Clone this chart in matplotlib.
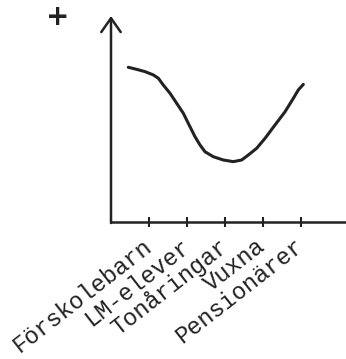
import numpy as np
import matplotlib
matplotlib.use("Agg")
import matplotlib.pyplot as plt

# categories on the x axis
categories = ["Förskolebarn", "LM-elever", "Tonåringar", "Vuxna", "Pensionärer"]
tick_pos = [1, 2, 3, 4, 5]

# hand drawn curve (x in category units, y 0..10)
curve_x = [0.455, 0.676, 0.895, 1.113, 1.245, 1.376, 1.553, 1.729, 1.903,
           2.034, 2.211, 2.342, 2.474, 2.692, 2.955, 3.218, 3.439, 3.613,
           3.834, 4.053, 4.316, 4.579, 4.797, 4.929, 5.061]
curve_y = [7.51, 7.41, 7.30, 7.14, 6.98, 6.65, 6.25, 5.76, 5.28,
           4.79, 4.14, 3.74, 3.41, 3.17, 3.01, 2.93, 3.01, 3.25,
           3.58, 4.06, 4.71, 5.35, 6.00, 6.41, 6.68]

ink = "#222222"
W, H = 346, 359

fig = plt.figure(figsize=(W / 100, H / 100), dpi=100)
fig.patch.set_facecolor("white")

# axes box: y axis at x=111 px, x axis at y=222 px, arrow tip at y=16 px
ax = fig.add_axes([111 / W, (H - 222) / H, (W - 111) / W, (222 - 16) / H])
ax.set_xlim(0, (W - 111) / 38.0)
ax.set_ylim(0, 10)

ax.plot(curve_x, curve_y, color=ink, lw=2.2, solid_capstyle="round",
        solid_joinstyle="round", clip_on=False)

# axes lines
for s in ["top", "right", "left"]:
    ax.spines[s].set_visible(False)
ax.spines["bottom"].set_linewidth(1.8)
ax.spines["bottom"].set_color(ink)
ax.annotate("", xy=(0, 10), xytext=(0, -0.05),
            arrowprops=dict(arrowstyle="->,head_length=1.0,head_width=0.7",
                            lw=1.8, color=ink, shrinkA=0, shrinkB=0),
            annotation_clip=False)

ax.set_yticks([])
ax.set_xticks(tick_pos)
ax.set_xticklabels(categories, rotation=38, ha="right", va="center",
                   rotation_mode="anchor", fontsize=17,
                   family="Liberation Mono", color=ink)
ax.tick_params(axis="x", direction="inout", length=7, width=1.5,
               color=ink, pad=12)

# the plus sign at the top left
fig.text(58 / W, 1 - 17 / H, "+", ha="center", va="center",
         fontsize=20, fontweight="bold", color=ink)

fig.savefig("out.png", dpi=100, facecolor="white")
